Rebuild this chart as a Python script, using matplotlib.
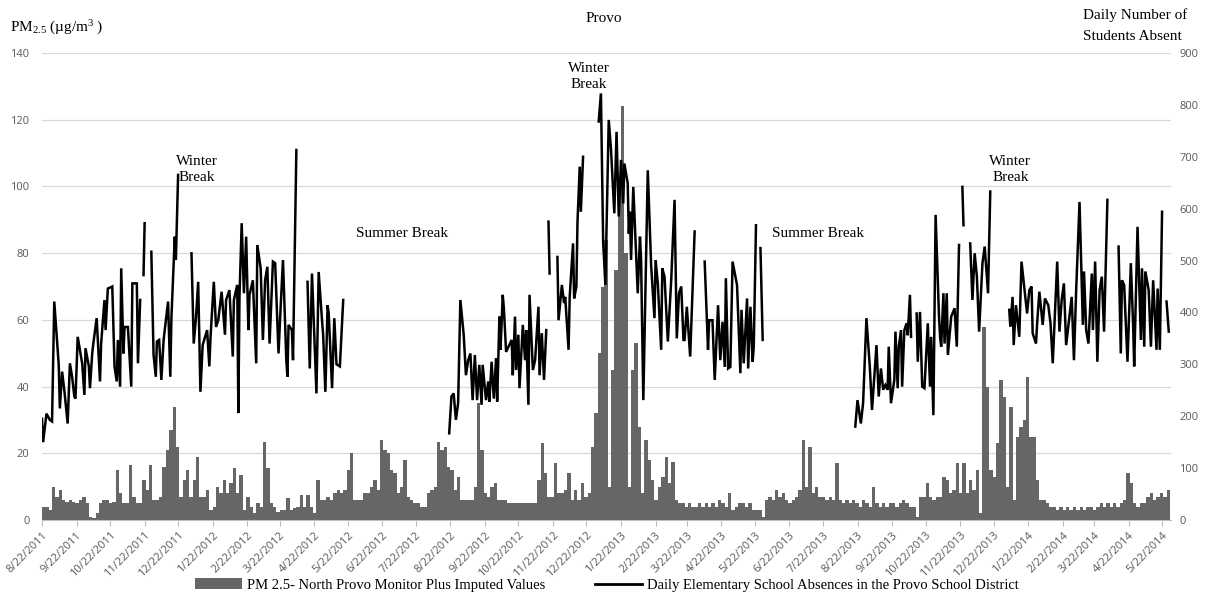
import numpy as np
import pandas as pd
import matplotlib
matplotlib.use('Agg')
import matplotlib.pyplot as plt
import matplotlib.dates as mdates
from matplotlib.patches import Patch
from matplotlib.lines import Line2D

start = pd.Timestamp('2011-08-22')

# PM2.5, one value per 3-day block starting at 8/22/2011 (ug/m3)
pm_step = 3
pm25 = [
    4, 4, 3, 10, 7, 9, 6, 5.5, 6, 5.5,
    5, 6, 7, 5, 1, 0.5, 2, 5, 6, 6,
    5, 5.5, 15, 8, 5, 5, 16.5, 7, 5, 5,
    12, 9, 16.5, 6, 6, 7, 16, 21, 27, 34,
    22, 7, 12, 15, 7, 12, 19, 7, 7, 9,
    3, 4, 10, 8, 12, 8, 11, 15.5, 8, 13.5,
    3, 7, 4, 2, 5, 4, 23.5, 15.5, 5, 4,
    2.5, 3, 3, 6.5, 3, 3.5, 4, 7.5, 4, 7.5,
    4, 2, 12, 6, 6, 7, 6, 8, 9, 8,
    9, 15, 20, 6, 6, 6, 8, 8, 10, 12,
    9, 24, 21, 20, 15, 14, 8, 10, 18, 7,
    6, 5, 5, 4, 4, 8, 9, 10, 23.5, 21,
    22, 16, 15, 9, 13, 6, 6, 6, 6, 10,
    35, 21, 8, 7, 10, 11, 6, 6, 6, 5,
    5, 5, 5, 5, 5, 5, 5, 5, 12, 23,
    14, 7, 7, 17, 8, 8, 9, 14, 6, 9,
    6, 11, 7, 8, 22, 32, 50, 70, 84, 10,
    45, 75, 100, 124, 80, 10, 45, 53, 28, 8,
    24, 18, 12, 6, 10, 13, 19, 11, 17.5, 6,
    5, 5, 4, 5, 4, 4, 5, 4, 5, 4,
    5, 4, 6, 5, 4, 8, 3, 4, 5, 5,
    4, 5, 3, 3, 3, 1, 6, 7, 6, 9,
    7, 8, 6, 5, 6, 7, 9, 24, 10, 22,
    8, 10, 7, 7, 6, 7, 6, 17, 6, 5,
    6, 5, 6, 5, 4, 6, 5, 4, 10, 5,
    4, 5, 4, 5, 5, 4, 5, 6, 5, 4,
    4, 1, 7, 7, 11, 7, 6, 7, 7, 13,
    12, 8, 9, 17, 8, 17, 8, 12, 9, 15,
    2, 58, 40, 15, 13, 23, 42, 37, 10, 34,
    6, 25, 28, 30, 43, 25, 25, 12, 6, 6,
    5, 4, 4, 3, 4, 3, 4, 3, 4, 3,
    4, 3, 4, 4, 3, 4, 5, 4, 5, 4,
    5, 4, 5, 6, 14, 11, 5, 4, 5, 5,
    7, 8, 6, 7, 8, 7, 9,
]

# daily elementary absences: (days after 8/22/2011, students); None = no school
absences_2011 = [
    (0, 195), (1, 150), (4, 205), (7, 193), (9, 190), (11, 421), (15, 299), (16, 215),
    (18, 286), (20, 250), (23, 186), (25, 302), (27, 276), (29, 238), (30, 234), (32, 353),
    (36, 302), (38, 241), (39, 331), (42, 296), (43, 254), (45, 321), (46, 340), (49, 389),
    (52, 267), (53, 340), (56, 424), (57, 366), (59, 446), (63, 450), (65, 296), (67, 267),
    (68, 347), (70, 257), (71, 485), (73, 321), (74, 372), (77, 372), (80, 257), (81, 456),
    (85, 456), (86, 302), (88, 424), (89, None), (91, 472), (92, 572), (94, None),
    (98, 517), (100, 318), (102, 276), (103, 344), (105, 347), (107, 270), (109, 347),
    (113, 421), (115, 276), (116, 389), (119, 546), (120, 501), (122, 665), (128, None),
    (134, 514), (136, 340), (138, 389), (140, 459), (142, 247), (144, 337), (148, 366),
    (150, 296), (151, 350), (154, 459), (156, 372), (158, 385), (161, 440), (164, 357),
    (165, 424), (168, 443), (171, 315), (172, 424), (175, 453), (176, 206), (177, 430),
    (179, 572), (181, 437), (183, 546), (185, 366), (186, 434), (189, 462), (192, 302),
    (193, 530), (196, 485), (198, 347), (200, 462), (202, 488), (204, 340), (207, 498),
    (209, 495), (212, 321), (214, 414), (216, 501), (219, 308), (220, 276), (221, 376),
    (224, 366), (225, 308), (228, 713), (233, None), (238, 459), (240, 292), (242, 475),
    (244, 360), (246, 244), (248, 478), (251, 385), (252, 357), (254, 247), (256, 414),
    (257, 398), (260, 254), (262, 389), (264, 300), (267, 296), (270, 424),
]
absences_2012 = [
    (365, 167), (367, 238), (369, 244), (371, 193), (373, 225), (375, 424), (378, 357),
    (380, 279), (382, 308), (384, 321), (386, 231), (388, 318), (390, 231), (392, 299),
    (394, 222), (395, 299), (398, 231), (400, 267), (401, 228), (403, 305), (405, 234),
    (407, 312), (408, 228), (410, 392), (411, 328), (413, 434), (414, 408), (416, 324),
    (421, 347), (422, 279), (424, 392), (425, 289), (427, 357), (428, 254), (431, 376),
    (433, 308), (434, 366), (436, 222), (437, 434), (440, 289), (442, 308), (445, 411),
    (446, 279), (448, 360), (450, 270), (452, 366), (453, None), (454, 575), (455, 475),
    (458, None), (462, 507), (463, 385), (466, 453), (468, 418), (469, 430), (472, 328),
    (473, 430), (476, 533), (477, 427), (479, 450), (480, 575), (482, 681), (483, 594),
    (485, 700), (492, None), (499, 768), (501, 822), (503, 536), (505, 453), (508, 771),
    (510, 716), (513, 591), (515, 748), (517, 585), (519, 694), (521, 610), (522, 687),
    (525, 649), (526, 552), (527, 594), (528, 501), (530, 642), (534, 437), (536, 546),
    (537, 501), (539, 231), (543, 674), (546, 491), (549, 389), (550, 501), (552, 456),
    (555, 328), (556, 485), (558, 469), (561, 344), (564, 462), (567, 617), (569, 350),
    (571, 437), (573, 450), (575, 347), (576, 347), (578, 411), (581, 315), (585, 556),
    (589, None), (594, 498), (597, 328), (598, 385), (601, 385), (603, 270), (606, 414),
    (608, 308), (610, 382), (612, 295), (613, 466), (615, 292), (617, 295), (619, 498),
    (623, 453), (626, 283), (627, 405), (629, 302), (632, 427), (633, 292), (635, 411),
    (637, 305), (638, 334), (640, 568), (642, None), (644, 524), (646, 347),
]
absences_2013 = [
    (729, 180), (731, 231), (734, 186), (736, 225), (739, 389), (742, 296), (744, 212),
    (746, 276), (748, 337), (750, 238), (752, 292), (754, 251), (756, 260), (758, 251),
    (759, 334), (761, 225), (764, 270), (765, 363), (767, 254), (768, 334), (770, 366),
    (771, 257), (773, 366), (775, 379), (776, 356), (778, 434), (779, 353), (781, None),
    (784, 398), (785, 305), (787, 401), (789, 257), (791, 254), (794, 379), (796, 257),
    (797, 353), (799, 202), (801, 588), (804, 395), (805, 353), (806, 334), (808, 437),
    (809, 340), (811, 437), (812, 318), (815, 392), (818, 408), (820, 334), (822, 530),
    (823, None), (825, 642), (826, 568), (828, None), (832, 533), (834, 424), (836, 514),
    (838, 469), (840, 363), (843, 495), (845, 527), (848, 437), (850, 633), (856, None),
    (867, 405), (868, 373), (870, 430), (871, 337), (873, 414), (876, 353), (878, 498),
    (881, 437), (883, 398), (885, 443), (887, 450), (888, 360), (891, 340), (892, 379),
    (894, 440), (897, 376), (899, 427), (902, 414), (904, 379), (906, 302), (910, 498),
    (912, 363), (914, 424), (916, 456), (918, 337), (923, 430), (925, 308), (927, 443),
    (930, 613), (933, 376), (934, 479), (936, 366), (938, 340), (941, 475), (942, 366),
    (944, 498), (946, 305), (948, 443), (950, 469), (952, 363), (955, 617), (959, None),
    (965, 527), (967, 321), (968, 462), (970, 453), (973, 305), (976, 495), (978, 379),
    (979, 296), (982, 565), (985, 347), (986, 485), (988, 334), (989, 479), (992, 443),
    (994, 334), (996, 462), (999, 328), (1000, 446), (1002, 328), (1004, 594),
    (1006, None), (1008, 421), (1010, 363),
]

# breaks: (label, days after 8/22/2011, PM2.5 height)
break_labels = [
    ('Winter\nBreak', 139, 105),
    ('Summer Break', 323, 86),
    ('Winter\nBreak', 490, 133),
    ('Summer Break', 696, 86),
    ('Winter\nBreak', 868, 105),
]

n_months = 34
n_days = 1012

serif = 'Liberation Serif'
grey_txt = '#595959'

x0 = mdates.date2num(start)

fig = plt.figure(figsize=(12.08, 5.92), dpi=100)
ax = fig.add_axes([42 / 1208, 1 - 520 / 592, (1171 - 42) / 1208, (520 - 53) / 592])
ax2 = ax.twinx()

pm_x = x0 + np.arange(len(pm25)) * pm_step
ax.bar(pm_x, pm25, width=pm_step, align='edge', color='#666666', linewidth=0)

for term in [absences_2011, absences_2012, absences_2013]:
    days = np.array([d for d, v in term], dtype=float)
    vals = np.array([v for d, v in term], dtype=float)
    ax2.plot(x0 + days, vals, color='black', lw=1.8, solid_joinstyle='miter')

ax.set_xlim(x0, x0 + n_days)
ax.set_ylim(0, 140)
ax.set_yticks(range(0, 141, 20))
ax2.set_ylim(0, 900)
ax2.set_yticks(range(0, 901, 100))

ax.yaxis.grid(True, color='#d9d9d9', lw=0.9)
ax.set_axisbelow(True)

tick_dates = [start + pd.DateOffset(months=i) for i in range(n_months)]
ax.set_xticks([mdates.date2num(d) for d in tick_dates])
ax.set_xticklabels([f'{d.month}/{d.day}/{d.year}' for d in tick_dates],
                   rotation=45, ha='right', rotation_mode='anchor')

for a in (ax, ax2):
    for s in ['top', 'left', 'right']:
        a.spines[s].set_visible(False)
    a.spines['bottom'].set_color('#bfbfbf')
ax2.spines['bottom'].set_visible(False)

ax.tick_params(axis='x', length=4, color='#bfbfbf', labelsize=8, labelcolor=grey_txt, pad=3)
ax.tick_params(axis='y', length=0, labelsize=8, labelcolor=grey_txt, pad=9)
ax2.tick_params(axis='y', length=0, labelsize=8, labelcolor=grey_txt, pad=6)
for lab in ax.get_xticklabels() + ax.get_yticklabels() + ax2.get_yticklabels():
    lab.set_fontfamily('Open Sans')

for text, d, y in break_labels:
    ax.text(x0 + d, y, text, ha='center', va='center', family=serif, fontsize=11,
            linespacing=1.3)

fig.text(604 / 1208, 1 - 18 / 592, 'Provo', ha='center', va='center', family=serif, fontsize=11)
fig.text(10 / 1208, 1 - 28 / 592, r'PM$\mathregular{_{2.5}}$ (µg/m$\mathregular{^3}$ )',
         ha='left', va='center', family=serif, fontsize=11)
fig.text(1083 / 1208, 1 - 15 / 592, 'Daily Number of', ha='left', va='center',
         family=serif, fontsize=11)
fig.text(1083 / 1208, 1 - 37 / 592, 'Students Absent', ha='left', va='center',
         family=serif, fontsize=11)

handles = [Patch(facecolor='#666666', edgecolor='none'),
           Line2D([0], [0], color='black', lw=2)]
labels = ['PM 2.5- North Provo Monitor Plus Imputed Values',
          'Daily Elementary School Absences in the Provo School District']
fig.legend(handles, labels, loc='center', bbox_to_anchor=(607 / 1208, 1 - 585 / 592),
           ncol=2, frameon=False, prop={'family': serif, 'size': 10.5},
           handlelength=3.2, handleheight=0.7, handletextpad=0.35, columnspacing=3.4,
           borderpad=0, borderaxespad=0)

fig.savefig('out.png', dpi=100)
